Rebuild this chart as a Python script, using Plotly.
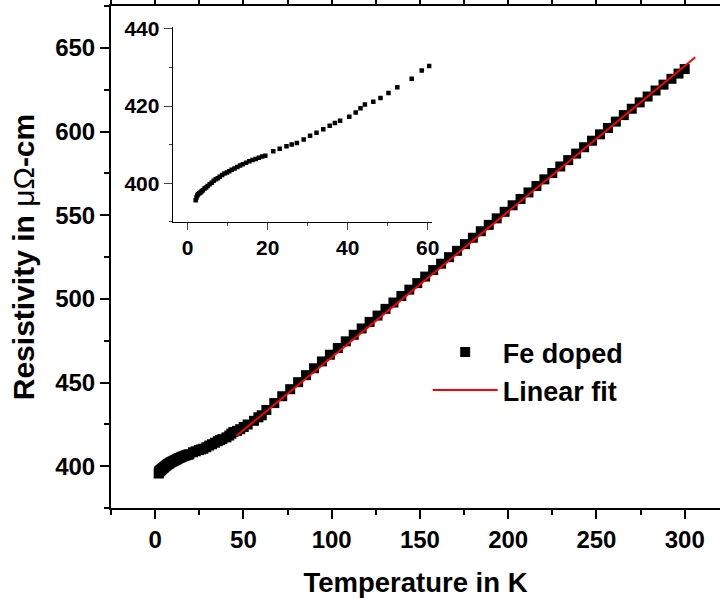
import plotly.graph_objects as go

temp_K = [2.0, 2.2, 2.4, 2.6, 2.9, 3.2, 3.5, 3.8, 4.2, 4.6, 5.0, 5.5, 6.0, 6.5, 7.0, 7.5,
          8.0, 8.6, 9.2, 9.8, 10.4, 11.0, 11.7, 12.4, 13.1, 13.8, 14.6, 15.4, 16.2, 17.0,
          17.8, 18.6, 19.4, 21.4, 23.0, 24.7, 26.0, 27.3, 29.0, 30.6, 32.2, 33.9, 35.5,
          36.8, 38.1, 40.4, 42.0, 43.2, 44.3, 46.4, 48.2, 50.2, 52.4, 56.0, 58.5, 60.4,
          63, 67.5, 72, 76.5, 81, 85.5, 90, 94.5, 99, 103.5, 108, 112.5, 117, 121.5, 126,
          130.5, 135, 139.5, 144, 148.5, 153, 157.5, 162, 166.5, 171, 175.5, 180, 184.5,
          189, 193.5, 198, 202.5, 207, 211.5, 216, 220.5, 225, 229.5, 234, 238.5, 243,
          247.5, 252, 256.5, 261, 265.5, 270, 274.5, 279, 283.5, 288, 292.5, 296.5, 300]
rho = [395.6, 396.3, 396.8, 397.1, 397.4, 397.6, 397.9, 398.2, 398.6, 398.9, 399.3, 399.7,
       400.1, 400.6, 401.0, 401.3, 401.7, 402.1, 402.5, 402.8, 403.1, 403.5, 403.8, 404.2,
       404.6, 404.9, 405.3, 405.7, 406.0, 406.3, 406.6, 406.9, 407.1, 408.3, 408.9, 409.6,
       410.0, 410.4, 411.3, 412.3, 413.1, 414.0, 414.9, 415.6, 416.2, 417.2, 418.3, 419.4,
       420.4, 421.1, 422.1, 423.4, 424.9, 427.1, 429.2, 430.4,
       433.6, 437.7, 441.8, 446.0, 450.2, 454.4, 458.5, 462.6, 466.6, 470.6, 474.6, 478.5,
       482.3, 486.2, 490.0, 494.0, 497.8, 501.7, 505.5, 509.4, 513.3, 517.2, 521.0, 524.9,
       528.7, 532.7, 536.5, 540.4, 544.2, 548.1, 552.0, 555.9, 559.7, 563.6, 567.4, 571.4,
       575.2, 579.1, 582.9, 586.8, 590.6, 594.5, 598.3, 602.1, 605.9, 609.8, 613.6, 617.4,
       620.9, 624.5, 628.0, 631.5, 634.6, 637.3]

# linear fit end points
fit_T = [46, 306]
fit_rho = [418.0, 644.4]

# tick values
main_xticks = [0, 50, 100, 150, 200, 250, 300]
main_yticks = [400, 450, 500, 550, 600, 650]
inset_xticks = [0, 20, 40, 60]
inset_yticks = [400, 420, 440]

inset_T = [t for t in temp_K if t <= 61]
inset_rho = [r for t, r in zip(temp_K, rho) if t <= 61]

FONT = "Liberation Sans, Arial, sans-serif"


def bold(vals):
    return [f"<b>{v}</b>" for v in vals]


fig = go.Figure()
fig.add_trace(go.Scatter(x=temp_K, y=rho, mode="markers", name="Fe doped",
                         marker=dict(symbol="square", size=10, color="black")))
fig.add_trace(go.Scatter(x=fit_T, y=fit_rho, mode="lines", name="Linear fit",
                         line=dict(color="#ff0000", width=2)))
fig.add_trace(go.Scatter(x=inset_T, y=inset_rho, mode="markers", showlegend=False,
                         marker=dict(symbol="square", size=4.5, color="black"),
                         xaxis="x2", yaxis="y2"))

main_tick = dict(family=FONT, size=24, color="black")
inset_tick = dict(family=FONT, size=21, color="black")

fig.update_layout(
    width=720, height=598,
    margin=dict(l=111, r=0, t=6, b=90),
    paper_bgcolor="white", plot_bgcolor="white",
    showlegend=True,
    legend=dict(x=0.52, y=0.272, xanchor="left", yanchor="middle",
                bgcolor="rgba(0,0,0,0)", itemwidth=65,
                font=dict(family=FONT, size=27, color="black", weight="bold")),
    xaxis=dict(range=[-25, 320], tickvals=main_xticks, ticktext=bold(main_xticks),
               ticks="outside", ticklen=9, tickwidth=1.5, tickcolor="black",
               minor=dict(dtick=25, tick0=0, ticks="outside", ticklen=5, tickcolor="black"),
               showline=True, linewidth=2, linecolor="black", mirror="ticks",
               showgrid=False, zeroline=False, tickfont=main_tick, automargin=False,
               title=dict(text="<b>Temperature in K</b>", standoff=22,
                          font=dict(family=FONT, size=27.5, color="black"))),
    yaxis=dict(range=[375, 675], tickvals=main_yticks, ticktext=bold(main_yticks),
               ticks="outside", ticklen=9, tickwidth=1.5, tickcolor="black",
               minor=dict(dtick=25, tick0=0, ticks="outside", ticklen=5, tickcolor="black"),
               showline=True, linewidth=2, linecolor="black",
               showgrid=False, zeroline=False, tickfont=main_tick, automargin=False,
               title=dict(text="<b>Resistivity in </b>μΩ<b>-cm</b>", standoff=12,
                          font=dict(family=FONT, size=30, color="black"))),
    xaxis2=dict(domain=[0.1013, 0.5266], anchor="y2", range=[-3.75, 61],
                tickvals=inset_xticks, ticktext=bold(inset_xticks),
                ticks="outside", ticklen=7, tickwidth=1,
                minor=dict(dtick=10, tick0=0, ticks="outside", ticklen=3),
                showline=True, linewidth=1, linecolor="black", automargin=False,
                showgrid=False, zeroline=False, tickfont=inset_tick),
    yaxis2=dict(domain=[0.5702, 0.9582], anchor="x2", range=[390, 440.5],
                tickvals=inset_yticks, ticktext=bold(inset_yticks),
                ticks="outside", ticklen=8, tickwidth=1,
                minor=dict(dtick=10, tick0=0, ticks="outside", ticklen=3),
                showline=True, linewidth=1, linecolor="black", automargin=False,
                showgrid=False, zeroline=False, tickfont=inset_tick),
)

# the page body has a default 8px margin; drop it so the figure fills the window
fig.write_html("out.html", config={"displayModeBar": False},
               post_script="document.body.style.margin='0';")
